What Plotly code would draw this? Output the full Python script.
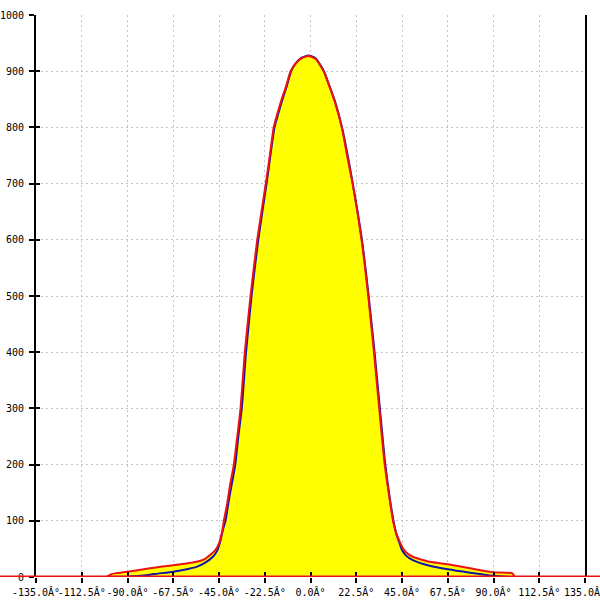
import plotly.graph_objects as go

# Angles (deg) and values for the two series
red_x = [-102, -100.5, -98, -95, -90, -85, -79, -73, -67.5, -62, -56, -52, -49.5, -47, -45, -43.5,
         -42.6, -41, -39.5, -37.7, -36, -34.4, -32.3, -29.5, -26.2, -22, -20, -18.1, -16, -14,
         -12, -9.8, -7, -4.5, -1, 2.5, 6.5, 9, 12, 15.4, 18, 20.7, 25.1, 28.4, 31.2, 33.8, 36.5,
         40.6, 42, 43.5, 45, 47, 50.3, 58.6, 67.5, 78.5, 90, 99.3, 100.5, 102]
red_y = [0, 0, 5, 7, 9.5, 12, 15.5, 18.5, 21, 23.5, 27, 32, 39, 47, 60, 80,
         100, 130, 165, 200, 250, 300, 400, 500, 600, 700, 750, 800, 828, 852,
         873, 900, 915, 923, 927, 922, 900, 876, 845, 800, 750, 700, 600, 500, 400, 300, 200,
         100, 80, 66, 54, 44, 36, 27, 22.5, 15.5, 8.3, 6.5, 0, 0]

blue_x = [-102, -100.5, -90, -85, -80, -75, -67.5, -62, -56, -52, -48, -46, -44.5, -43, -41.8,
          -40, -37, -35.5, -33.8, -31.7, -29, -25.7, -21.6, -17.7, -15.6, -13.6, -11.7, -9.5,
          -6.8, -4.3, -1, 2.5, 6.6, 9, 12, 15.5, 20.8, 25.3, 28.6, 31.5, 34.1, 36.8, 40.8, 42.3,
          43.8, 45, 47, 50.3, 58.6, 67.5, 78.5, 90, 95, 100, 102]
blue_y = [0, 0, 1, 2, 3.5, 6, 9.5, 13, 18, 25, 36, 46, 62, 85, 100,
          140, 200, 250, 300, 400, 500, 600, 700, 800, 828, 852, 873, 900,
          916, 924, 928, 923, 900, 877, 847, 800, 700, 600, 500, 400, 300, 200, 100, 75,
          60, 48, 38, 30, 20, 13.6, 7.7, 2.3, 1, 0, 0]

x_ticks = [-135, -112.5, -90, -67.5, -45, -22.5, 0, 22.5, 45, 67.5, 90, 112.5, 135]
x_labels = ["-135.0Â°", "-112.5Â°", "-90.0Â°", "-67.5Â°", "-45.0Â°", "-22.5Â°", "0.0Â°",
            "22.5Â°", "45.0Â°", "67.5Â°", "90.0Â°", "112.5Â°", "135.0Â°"]
y_ticks = [0, 100, 200, 300, 400, 500, 600, 700, 800, 900, 1000]
y_labels = [str(v) for v in y_ticks]

font = dict(family="DejaVu Sans Mono", size=10, color="black")
line_shape = dict(shape="spline", smoothing=0.5)

fig = go.Figure()
fig.add_trace(go.Scatter(x=red_x, y=red_y, mode="lines", fill="tozeroy",
                         fillcolor="#ffff00",
                         line=dict(width=0, color="rgba(0,0,0,0)", **line_shape),
                         hoverinfo="skip", showlegend=False))
fig.add_trace(go.Scatter(x=blue_x, y=blue_y, mode="lines",
                         line=dict(color="#1414a8", width=2, **line_shape), showlegend=False))
fig.add_trace(go.Scatter(x=red_x, y=red_y, mode="lines",
                         line=dict(color="#ee1111", width=2, **line_shape), showlegend=False))

fig.update_layout(
    width=600, height=600,
    margin=dict(l=36, r=15, t=15, b=23, autoexpand=False),
    paper_bgcolor="white", plot_bgcolor="white",
    showlegend=False,
    xaxis=dict(range=[-135, 135], tickvals=x_ticks, ticktext=x_labels, tickangle=0,
               automargin=False, ticklabeloverflow="allow",
               showgrid=True, gridcolor="#c4c4c4", griddash="2px,3px", gridwidth=1,
               zeroline=False, showline=False, ticks="outside", ticklen=5,
               tickcolor="black", tickwidth=1.5, tickfont=font, ticklabelstandoff=1),
    yaxis=dict(range=[0, 1000], tickvals=y_ticks, ticktext=y_labels,
               automargin=False, ticklabeloverflow="allow",
               showgrid=True, gridcolor="#c4c4c4", griddash="2px,3px", gridwidth=1,
               zeroline=False, showline=True, linecolor="black", linewidth=2,
               mirror=True, ticks="outside", ticklen=5, tickcolor="black",
               tickwidth=1.5, tickfont=font, ticklabelstandoff=3),
    xaxis2=dict(range=[-135, 135], overlaying="x", tickvals=x_ticks, automargin=False,
                showticklabels=False, showgrid=False, zeroline=False,
                ticks="inside", ticklen=5, tickcolor="black", tickwidth=1.5),
    yaxis2=dict(range=[0, 1000], overlaying="y", tickvals=y_ticks, automargin=False,
                showticklabels=False, showgrid=False, zeroline=False,
                ticks="inside", ticklen=4, tickcolor="black", tickwidth=1.5),
)

# invisible trace to activate the secondary axes for inside ticks
fig.add_trace(go.Scatter(x=[None], y=[None], xaxis="x2", yaxis="y2",
                         showlegend=False, hoverinfo="skip"))

# red baseline spanning the full width
fig.add_shape(type="line", xref="paper", yref="y",
              x0=-36 / 549, x1=1 + 15 / 549, y0=0, y1=0,
              line=dict(color="#ee1111", width=3), layer="above")

fig.write_html("out.html",
               config={"displayModeBar": False},
               post_script="document.body.style.margin='0';document.body.style.overflow='hidden';")
